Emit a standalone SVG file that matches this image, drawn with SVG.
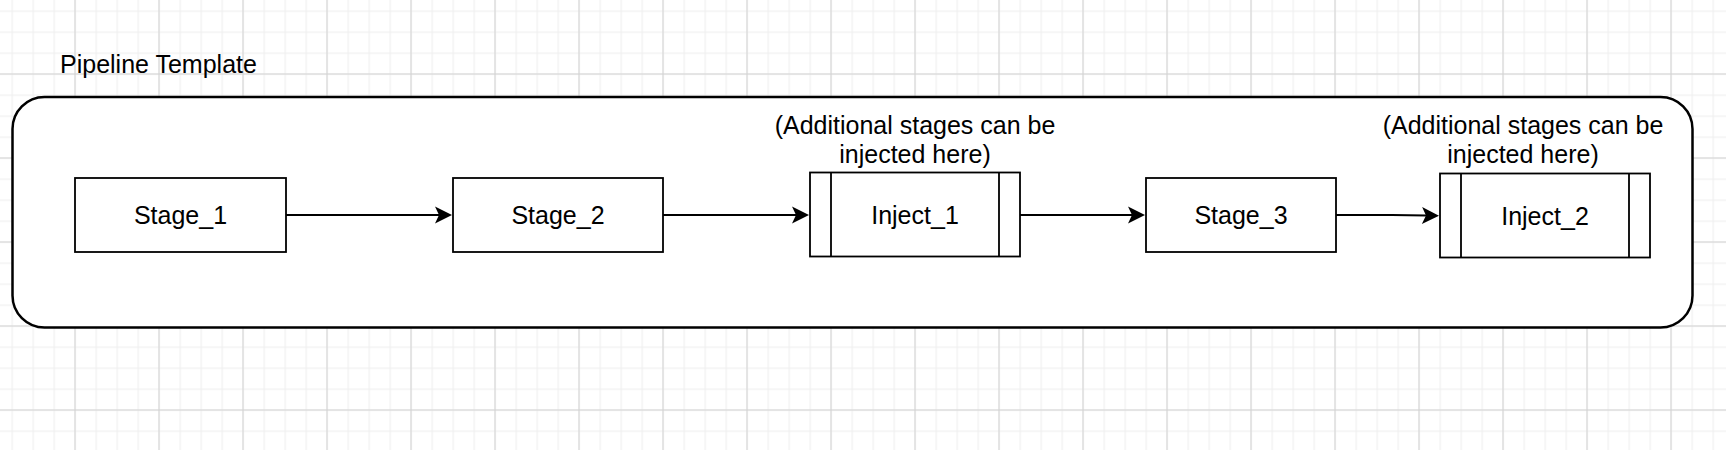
<svg xmlns="http://www.w3.org/2000/svg" width="1726" height="450" viewBox="0 0 1726 450">
  <style>
    .box { fill: #ffffff; stroke: #000000; stroke-width: 1.8; }
    .div { fill: none; stroke: #000000; stroke-width: 1.8; }
    .lbl { font-family: "Liberation Sans", Arial, sans-serif; font-size: 25px; fill: #000000; }
    .mid { text-anchor: middle; }
    .edge { fill: none; stroke: #000000; stroke-width: 1.8; marker-end: url(#arrow); }
  </style>
  <defs>
    <pattern id="minor" patternUnits="userSpaceOnUse" x="74.5" y="73.5" width="21" height="21">
      <path d="M0.5 0 V21 M0 0.5 H21" fill="none" stroke="#f0f0f0" stroke-width="1.5"/>
    </pattern>
    <pattern id="major" patternUnits="userSpaceOnUse" x="74.5" y="73.5" width="84" height="84">
      <path d="M0.5 0 V84 M0 0.5 H84" fill="none" stroke="#d2d2d2" stroke-width="1"/>
    </pattern>
    <marker id="arrow" markerUnits="userSpaceOnUse" markerWidth="18" markerHeight="18" refX="4" refY="8.5" orient="auto" overflow="visible">
      <path d="M0,0 L17,8.5 L0,17 L4,8.5 Z" fill="#000000"/>
    </marker>
  </defs>

  <rect width="1726" height="450" fill="#ffffff"/>
  <rect width="1726" height="450" fill="url(#minor)"/>
  <rect width="1726" height="450" fill="url(#major)"/>

  <g id="title">
    <text class="lbl" x="60" y="73">Pipeline Template</text>
  </g>

  <g id="container">
    <rect x="12.5" y="97" width="1680" height="230.5" rx="32" ry="32" fill="#ffffff" stroke="#000000" stroke-width="2.5"/>
  </g>

  <g id="connectors">
    <path class="edge" d="M286 215 H439"/>
    <path class="edge" d="M663 215 H796"/>
    <path class="edge" d="M1020 215 H1132"/>
    <path class="edge" d="M1336 215 H1392 L1426 215.5"/>
  </g>

  <g id="stage1">
    <rect class="box" x="75" y="178" width="211" height="74"/>
    <text class="lbl mid" x="180.5" y="224">Stage_1</text>
  </g>

  <g id="stage2">
    <rect class="box" x="453" y="178" width="210" height="74"/>
    <text class="lbl mid" x="558" y="224">Stage_2</text>
  </g>

  <g id="inject1">
    <rect class="box" x="810" y="172.5" width="210" height="84"/>
    <path class="div" d="M831 172.5 V256.5 M999 172.5 V256.5"/>
    <text class="lbl mid" x="915" y="224">Inject_1</text>
  </g>

  <g id="note1">
    <text class="lbl mid" x="915" y="134">(Additional stages can be</text>
    <text class="lbl mid" x="915" y="162.5">injected here)</text>
  </g>

  <g id="stage3">
    <rect class="box" x="1146" y="178" width="190" height="74"/>
    <text class="lbl mid" x="1241" y="224">Stage_3</text>
  </g>

  <g id="inject2">
    <rect class="box" x="1440" y="173.5" width="210" height="84"/>
    <path class="div" d="M1461 173.5 V257.5 M1629 173.5 V257.5"/>
    <text class="lbl mid" x="1545" y="225">Inject_2</text>
  </g>

  <g id="note2">
    <text class="lbl mid" x="1523" y="134">(Additional stages can be</text>
    <text class="lbl mid" x="1523" y="162.5">injected here)</text>
  </g>
</svg>
